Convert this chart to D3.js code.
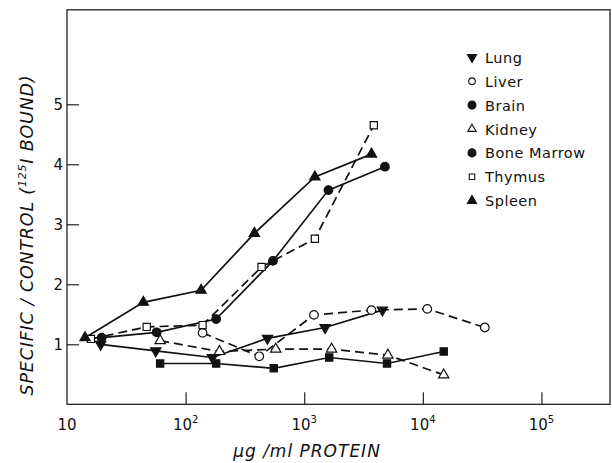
<!DOCTYPE html>
<html>
<head>
<meta charset="utf-8">
<script src="https://cdn.jsdelivr.net/npm/d3@7"></script>
<style>
  body { margin: 0; background: #fff; }
  text { font-family: "DejaVu Sans", sans-serif; fill: #111; }
</style>
</head>
<body>
<div id="chart"></div>
<script>
// chart size
var w = 612;
var h = 463;

// data
var lungX   = [19.2, 56, 168, 490, 1500, 4560];
var lungY   = [1.00, 0.89, 0.78, 1.10, 1.28, 1.57];
var liverX  = [139, 418, 1208, 3690, 10900, 33300];
var liverY  = [1.19, 0.80, 1.49, 1.57, 1.59, 1.28];
var brainX  = [61, 181, 553, 1625, 4990, 15000];
var brainY  = [0.68, 0.68, 0.60, 0.78, 0.68, 0.88];
var kidneyX = [61, 193, 575, 1700, 5070, 15000];
var kidneyY = [1.06, 0.88, 0.92, 0.92, 0.82, 0.49];
var marrowX = [19.6, 57, 181, 545, 1600, 4790];
var marrowY = [1.11, 1.20, 1.42, 2.39, 3.57, 3.96];
var thymusX = [15.9, 47, 139, 437, 1230, 3860];
var thymusY = [1.09, 1.29, 1.32, 2.29, 2.76, 4.65];
var spleenX = [14.2, 44, 135, 380, 1230, 3690];
var spleenY = [1.11, 1.70, 1.90, 2.85, 3.79, 4.17];

var legendNames = ["Lung", "Liver", "Brain", "Kidney", "Bone Marrow", "Thymus", "Spleen"];
var yTicks = [1, 2, 3, 4, 5];
var xTicks = [10, 100, 1000, 10000, 100000];

var svg = d3.select("#chart")
  .append("svg")
  .attr("width", w)
  .attr("height", h);

// scales
var x = d3.scaleLog().domain([10, Math.pow(10, 5.578)]).range([67, 610]);
var y = d3.scaleLinear().domain([0, 6.575]).range([404.3, 9.8]);

// frame
svg.append("rect")
  .attr("x", 67).attr("y", 9.8)
  .attr("width", 543).attr("height", 394.5)
  .attr("fill", "none").attr("stroke", "#222").attr("stroke-width", 1.3);

// axes (ticks point inward)
var yAxis = d3.axisLeft(y).tickValues(yTicks).tickSize(-12).tickPadding(4)
  .tickFormat(d3.format("d"));
var gy = svg.append("g").attr("transform", "translate(67,0)").call(yAxis);
gy.select(".domain").remove();
gy.selectAll("line").attr("stroke", "#222").attr("stroke-width", 1.2);
gy.selectAll("text").attr("font-size", 15);

var xAxis = d3.axisBottom(x).tickValues(xTicks).tickSize(-12).tickFormat("");
var gx = svg.append("g").attr("transform", "translate(0,404.3)").call(xAxis);
gx.select(".domain").remove();
gx.selectAll("line").attr("stroke", "#222").attr("stroke-width", 1.2);
gx.selectAll(".tick line").filter(function(d) { return d === 10; }).remove();

// x tick labels as powers of ten
var xl = svg.append("g").selectAll("text")
  .data(xTicks)
  .enter()
  .append("text")
  .attr("x", function(d) { return x(d); })
  .attr("y", 430)
  .attr("text-anchor", "middle")
  .attr("font-size", 15);
xl.each(function(d) {
  var t = d3.select(this);
  var p = Math.round(Math.log10(d));
  if (p === 1) { t.text("10"); return; }
  t.append("tspan").text("10");
  t.append("tspan").attr("dy", -7).attr("font-size", 10).text(p);
});

// axis titles
svg.append("text")
  .attr("x", 307).attr("y", 457)
  .attr("text-anchor", "middle")
  .attr("font-size", 17)
  .attr("letter-spacing", 1)
  .attr("font-style", "italic")
  .text("\u03bcg /ml PROTEIN");

var yt = svg.append("text")
  .attr("transform", "translate(33,235) rotate(-90)")
  .attr("text-anchor", "middle")
  .attr("font-size", 17.5)
  .attr("letter-spacing", 0.8)
  .attr("font-style", "italic");
yt.append("tspan").text("SPECIFIC / CONTROL  (");
yt.append("tspan").attr("dy", -7).attr("font-size", 11).text("125");
yt.append("tspan").attr("dy", 7).text("I BOUND)");

// series
function pts(xs, ys) {
  return xs.map(function(v, i) { return [v, ys[i]]; });
}
var series = [
  { name: "Lung",        d: pts(lungX, lungY),     dash: null,  shape: "down",   fill: "#111" },
  { name: "Liver",       d: pts(liverX, liverY),   dash: "9,5", shape: "circle", fill: "#fff" },
  { name: "Brain",       d: pts(brainX, brainY),   dash: null,  shape: "square", fill: "#111" },
  { name: "Kidney",      d: pts(kidneyX, kidneyY), dash: "9,5", shape: "up",     fill: "#fff" },
  { name: "Bone Marrow", d: pts(marrowX, marrowY), dash: null,  shape: "circle", fill: "#111" },
  { name: "Thymus",      d: pts(thymusX, thymusY), dash: "9,5", shape: "square", fill: "#fff" },
  { name: "Spleen",      d: pts(spleenX, spleenY), dash: null,  shape: "up",     fill: "#111" }
];

var line = d3.line()
  .x(function(d) { return x(d[0]); })
  .y(function(d) { return y(d[1]); });

function symPath(shape, size) {
  var t = shape === "circle" ? d3.symbolCircle
        : shape === "square" ? d3.symbolSquare : d3.symbolTriangle;
  return d3.symbol().type(t).size(size)();
}
function symRot(shape) { return shape === "down" ? " rotate(180)" : ""; }
function symSize(shape) {
  return shape === "circle" ? 58 : shape === "square" ? 52 : 46;
}

series.forEach(function(s) {
  svg.append("path")
    .attr("d", line(s.d))
    .attr("fill", "none")
    .attr("stroke", "#111")
    .attr("stroke-width", 1.7)
    .attr("stroke-dasharray", s.dash);
});

series.forEach(function(s) {
  svg.append("g").selectAll("path")
    .data(s.d)
    .enter()
    .append("path")
    .attr("d", symPath(s.shape, symSize(s.shape)))
    .attr("transform", function(d) {
      return "translate(" + x(d[0]) + "," + y(d[1]) + ")" + symRot(s.shape);
    })
    .attr("fill", s.fill)
    .attr("stroke", "#111")
    .attr("stroke-width", 1.2);
});

// legend (Brain is shown with a filled dot in the key)
var legendShapes = ["down", "circle", "circle", "up", "circle", "square", "up"];
var legendFills  = ["#111", "#fff", "#111", "#fff", "#111", "#fff", "#111"];
var lg = svg.append("g").attr("transform", "translate(472,57.3)");
legendNames.forEach(function(n, i) {
  var row = lg.append("g").attr("transform", "translate(0," + (i * 23.9) + ")");
  var filled = legendFills[i] === "#111";
  var sz = legendShapes[i] === "circle" ? (filled ? 50 : 34) : (filled ? 36 : 30);
  row.append("path")
    .attr("d", symPath(legendShapes[i], sz))
    .attr("transform", legendShapes[i] === "down" ? "rotate(180)" : null)
    .attr("fill", legendFills[i])
    .attr("stroke", "#111")
    .attr("stroke-width", 1.1);
  row.append("text")
    .attr("x", 13).attr("y", 5.5)
    .attr("font-size", 14.5)
    .attr("letter-spacing", 0.5)
    .text(n);
});
</script>
</body>
</html>
